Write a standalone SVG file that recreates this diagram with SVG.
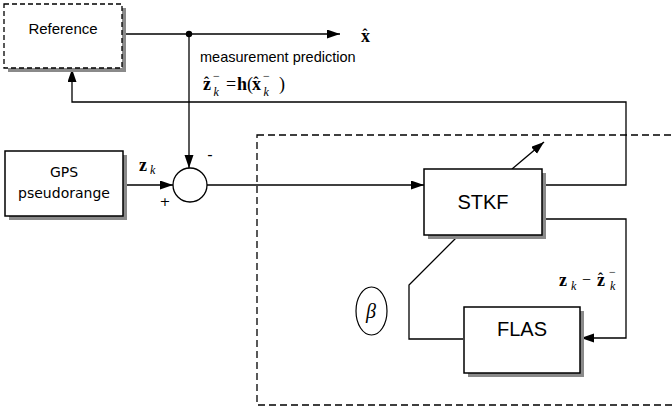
<svg xmlns="http://www.w3.org/2000/svg" width="672" height="415" viewBox="0 0 672 415">
<style>
.box{fill:#fff;stroke:#000;stroke-width:1.5}
.dbox{fill:#fff;stroke:#000;stroke-width:1.3;stroke-dasharray:5,3}
.shadow{fill:#8a8a8a;stroke:none}
.ln{fill:none;stroke:#000;stroke-width:1.3}
.lbl{font-family:"Liberation Sans",Arial,sans-serif;fill:#000}
.dv{font-family:"DejaVu Sans",Verdana,sans-serif;fill:#000}
.m{font-family:"Liberation Serif","Times New Roman",serif;fill:#000}
.b{font-weight:bold}
.i{font-style:italic}
</style>
<defs>
<marker id="arr" markerUnits="userSpaceOnUse" markerWidth="14" markerHeight="10" refX="13" refY="4.5" orient="auto">
<path d="M0,0 L13,4.5 L0,9 z" fill="#000"/>
</marker>
</defs>

<rect x="257" y="135" width="430" height="270" fill="none" stroke="#000" stroke-width="1.3" stroke-dasharray="7,4"/>

<g id="connectors">
<polyline class="ln" points="123,34 340,34" marker-end="url(#arr)"/>
<circle cx="189" cy="34" r="3.2" fill="#000"/>
<polyline class="ln" points="189,34 189,168" marker-end="url(#arr)"/>
<polyline class="ln" points="123,185 173,185" marker-end="url(#arr)"/>
<polyline class="ln" points="207,185 424,185" marker-end="url(#arr)"/>
<polyline class="ln" points="542,185 626,185 626,102 72,102 72,69" marker-end="url(#arr)"/>
<polyline class="ln" points="512,169 544,142" marker-end="url(#arr)"/>
<polyline class="ln" points="542,219 626,219 626,338 581,338" marker-end="url(#arr)"/>
<polyline class="ln" points="459,235 409,285 409,339 463,339"/>
</g>

<g id="reference">
<rect class="shadow" x="8" y="8" width="118" height="64"/>
<rect class="dbox" x="4" y="4" width="118" height="64"/>
<text class="lbl" x="63" y="34" font-size="15" text-anchor="middle">Reference</text>
</g>

<g id="gps">
<rect class="shadow" x="9" y="155" width="118" height="65"/>
<rect class="box" x="5" y="151" width="118" height="65"/>
<text class="dv" x="64" y="177" font-size="14" text-anchor="middle">GPS</text>
<text class="dv" x="64" y="198" font-size="14" text-anchor="middle">pseudorange</text>
</g>

<g id="sum">
<circle cx="190" cy="185" r="17" fill="#fff" stroke="#000" stroke-width="1.3"/>
<text class="dv" x="210" y="160" font-size="15" text-anchor="middle">-</text>
<text class="dv" x="165" y="206" font-size="13" text-anchor="middle">+</text>
</g>

<g id="stkf">
<rect class="shadow" x="428" y="173" width="118" height="66"/>
<rect class="box" x="424" y="169" width="118" height="66"/>
<text class="lbl" x="483" y="209" font-size="20" text-anchor="middle">STKF</text>
</g>

<g id="flas">
<rect class="shadow" x="468" y="311" width="116" height="66"/>
<rect class="box" x="464" y="307" width="116" height="66"/>
<text class="lbl" x="522" y="336" font-size="20" text-anchor="middle">FLAS</text>
</g>

<g id="beta">
<ellipse cx="371.5" cy="311" rx="15.5" ry="24" fill="none" stroke="#000" stroke-width="1.2"/>
<text class="m i" x="371" y="318" font-size="20" text-anchor="middle">β</text>
</g>

<g id="labels">
<text class="lbl" x="200" y="62" font-size="14.5">measurement prediction</text>
<!-- x hat output -->
<text class="m b" x="361" y="42" font-size="18">x</text>
<text class="m b" x="362.5" y="39" font-size="15">ˆ</text>
<!-- z_hat_k^- = h(x_hat_k^-) -->
<text class="m b" x="203" y="90" font-size="18">z</text>
<text class="m b" x="204" y="87" font-size="15">ˆ</text>
<text class="m" x="213" y="80" font-size="12">−</text>
<text class="m i" x="213.5" y="96" font-size="12">k</text>
<text class="m" x="226" y="90" font-size="18">=</text>
<text class="m b" x="237" y="90" font-size="18">h</text>
<text class="m" x="247" y="90" font-size="18">(</text>
<text class="m b" x="252" y="90" font-size="18">x</text>
<text class="m b" x="253.5" y="87" font-size="15">ˆ</text>
<text class="m" x="263" y="80" font-size="12">−</text>
<text class="m i" x="263.5" y="96" font-size="12">k</text>
<text class="m" x="279" y="90" font-size="18">)</text>
<!-- z_k near GPS -->
<text class="m b" x="139" y="171" font-size="18">z</text>
<text class="m i" x="150" y="174" font-size="12">k</text>
<!-- z_k - z_hat_k^- -->
<text class="m b" x="559" y="286" font-size="18">z</text>
<text class="m i" x="571" y="290" font-size="12">k</text>
<text class="m" x="582" y="285" font-size="16">−</text>
<text class="m b" x="597" y="286" font-size="18">z</text>
<text class="m b" x="598" y="283" font-size="15">ˆ</text>
<text class="m" x="609" y="276" font-size="12">−</text>
<text class="m i" x="610" y="290" font-size="12">k</text>
</g>
</svg>
